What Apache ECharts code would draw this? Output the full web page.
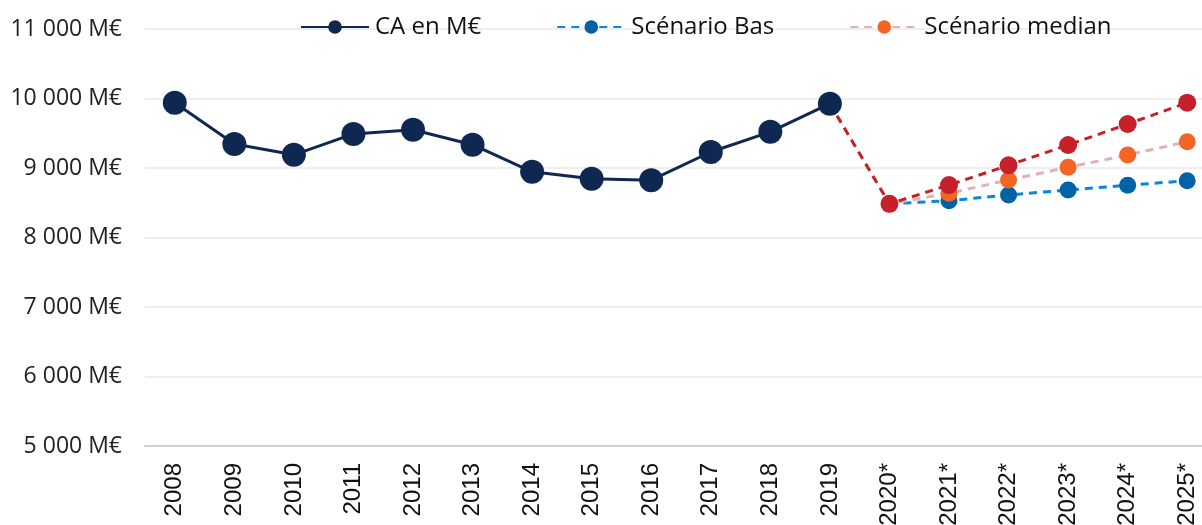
<!DOCTYPE html>
<html><head><meta charset="utf-8">
<script src="https://cdn.jsdelivr.net/npm/echarts@6/dist/echarts.min.js"></script>
<style>html,body{margin:0;padding:0;background:#fff;overflow:hidden}#c{width:1217px;height:525px}</style>
</head><body><div id="c"></div>
<script>
const categories = ['2008','2009','2010','2011','2012','2013','2014','2015','2016','2017','2018','2019','2020*','2021*','2022*','2023*','2024*','2025*'];
const caValues = [9940,9345,9190,9490,9550,9335,8945,8845,8825,9230,9520,9925,null,null,null,null,null,null];
const basValues = [null,null,null,null,null,null,null,null,null,null,null,null,8485,8530,8612,8683,8751,8817];
const medianValues = [null,null,null,null,null,null,null,null,null,null,null,9925,8485,8636,8827,9010,9187,9379];
const hautValues = [null,null,null,null,null,null,null,null,null,null,null,9925,8485,8755,9039,9331,9633,9940];
const yTicks = {min:5000, max:11000, interval:1000};

const fmt = v => String(v).replace(/\B(?=(\d{3})+(?!\d))/g, ' ') + ' M€';
const chart = echarts.init(document.getElementById('c'));
chart.setOption({
  animation:false,
  grid:{left:145, right:0, top:29, bottom:79, outerBoundsMode:'none', containLabel:false},
  legend:{
    data:['CA en M€','Scénario Bas','Scénario median'],
    left:295, top:10, itemWidth:68, itemHeight:17, itemGap:75,
    textStyle:{fontFamily:'Open Sans', fontSize:24, color:'#111', padding:[0,0,0,1]}
  },
  xAxis:{
    type:'category', data:categories, boundaryGap:true,
    axisLine:{lineStyle:{color:'#d0d0d0', width:2}},
    axisTick:{show:false},
    axisLabel:{rotate:90, margin:17, fontFamily:'Liberation Sans', fontSize:24, color:'#111', interval:0}
  },
  yAxis:{
    type:'value', min:yTicks.min, max:yTicks.max, interval:yTicks.interval,
    axisLine:{show:false}, axisTick:{show:false},
    splitLine:{lineStyle:{color:'#eeeeee', width:2}},
    axisLabel:{formatter:fmt, margin:23, fontFamily:'Open Sans', fontSize:23, color:'#222'}
  },
  series:[
    {name:'Scénario Bas', type:'line', data:basValues, z:2, symbol:'circle', symbolSize:17,
      itemStyle:{color:'#0062a6'}, lineStyle:{color:'#0a87dc', width:3, type:[8,6]}},
    {name:'Scénario median', type:'line', data:medianValues, z:3, symbol:'circle', symbolSize:17,
      itemStyle:{color:'#f26524'}, lineStyle:{color:'#e2b2b2', width:3, type:[8,6]}},
    {name:'Scénario haut', type:'line', data:hautValues, z:4, symbol:'circle', symbolSize:18,
      itemStyle:{color:'#c6202b'}, lineStyle:{color:'#c6202b', width:3, type:[8,6]}},
    {name:'CA en M€', type:'line', data:caValues, z:5, symbol:'circle', symbolSize:24,
      itemStyle:{color:'#0f2851'}, lineStyle:{color:'#0f2851', width:3}}
  ]
});
</script></body></html>
